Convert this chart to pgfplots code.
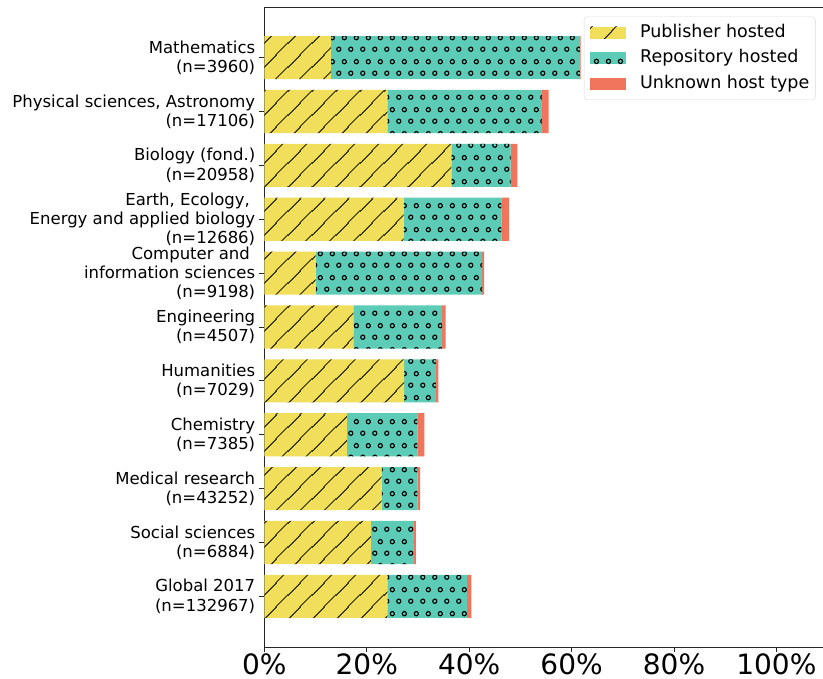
\documentclass[border=0pt]{standalone}
\usepackage{fontspec}
\setmainfont{DejaVu Sans}
\usepackage{pgfplots}
\pgfplotsset{compat=1.18}
\usetikzlibrary{patterns.meta}

\definecolor{pubyellow}{RGB}{241,222,90}
\definecolor{repoteal}{RGB}{92,204,182}
\definecolor{unkred}{RGB}{241,116,92}

% diagonal '/' hatch, 24pt apart horizontally
\tikzdeclarepattern{
  name=slashes,
  type=uncolored,
  bounding box={(0pt,0pt) and (24pt,24pt)},
  tile size={(24pt,24pt)},
  code={
    \draw[line width=0.85pt] (11pt,-1pt) -- (25pt,13pt);
    \draw[line width=0.85pt] (-1pt,11pt) -- (13pt,25pt);
  }
}

% open circles, staggered rows (like matplotlib 'oo' hatch)
\tikzdeclarepattern{
  name=rings,
  type=uncolored,
  bounding box={(0pt,0pt) and (12pt,24pt)},
  tile size={(12pt,24pt)},
  code={
    \draw[line width=1.2pt] (3pt,6pt) circle[radius=2.2pt];
    \draw[line width=1.2pt] (9pt,18pt) circle[radius=2.2pt];
  }
}

\begin{document}
\begin{tikzpicture}
  \begin{axis}[
    at={(264.4pt,32pt)}, anchor=south west,
    scale only axis,
    width=558.6pt, height=640pt,
    xbar stacked,
    bar width=0.8,
    y dir=reverse,
    xmin=0, xmax=109.1,
    ymin=-0.94, ymax=10.94,
    axis x line*=box,
    axis y line*=left,
    xtick pos=bottom, ytick pos=left,
    tick align=outside,
    major tick length=5pt,
    axis line style={black!85, line width=0.9pt},
    every tick/.style={black!85, line width=0.9pt},
    xtick={0,20,40,60,80,100},
    xticklabels={0\%,20\%,40\%,60\%,80\%,100\%},
    xticklabel style={font=\fontsize{28}{34}\selectfont, inner sep=0pt,
      text depth=0pt, yshift=-1.5pt},
    ytick={0,...,10},
    yticklabels={
      {Mathematics\\(n=3960)},
      {Physical sciences, Astronomy\\(n=17106)},
      {Biology (fond.)\\(n=20958)},
      {Earth, Ecology,\hspace*{0.32em}\\Energy and applied biology\\(n=12686)},
      {Computer and\hspace*{0.32em}\\information sciences\\(n=9198)},
      {Engineering\\(n=4507)},
      {Humanities\\(n=7029)},
      {Chemistry\\(n=7385)},
      {Medical research\\(n=43252)},
      {Social sciences\\(n=6884)},
      {Global 2017\\(n=132967)}
    },
    yticklabel style={font=\fontsize{16.5}{19.3}\selectfont, align=right, inner sep=0pt, xshift=-4pt},
    legend cell align=left,
    legend style={
      at={(rel axis cs:0.572,0.985)}, anchor=north west,
      font=\fontsize{17.5}{21}\selectfont,
      draw=black!15, rounded corners=3pt,
      inner xsep=6pt, inner ysep=7.5pt,
      row sep=8.5pt, column sep=14pt,
      nodes={inner sep=0pt, text height=13pt, text depth=4pt},
    },
    legend image code/.code={
      \fill[#1, sharp corners] (0pt,-6pt) rectangle (36pt,6pt);
    },
  ]
    % Publisher hosted
    \addplot[draw=none, fill=pubyellow,
      postaction={pattern=slashes, pattern color=black}]
      coordinates {
        (13.0,0) (24.0,1) (36.5,2) (27.2,3) (10.0,4) (17.4,5)
        (27.3,6) (16.1,7) (22.9,8) (20.8,9) (24.0,10)
      };
    % Repository hosted
    \addplot[draw=none, fill=repoteal,
      postaction={pattern=rings, pattern color=black}]
      coordinates {
        (48.6,0) (30.2,1) (11.6,2) (19.1,3) (32.5,4) (17.3,5)
        (6.2,6) (13.8,7) (7.0,8) (8.4,9) (15.6,10)
      };
    % Unknown host type
    \addplot[draw=none, fill=unkred]
      coordinates {
        (0.15,0) (1.3,1) (1.3,2) (1.5,3) (0.4,4) (0.7,5)
        (0.5,6) (1.35,7) (0.5,8) (0.4,9) (0.8,10)
      };
    \legend{Publisher hosted, Repository hosted, Unknown host type}
  \end{axis}
  \pgfresetboundingbox
  \useasboundingbox (0,0) rectangle (823pt,679pt);
\end{tikzpicture}
\end{document}
